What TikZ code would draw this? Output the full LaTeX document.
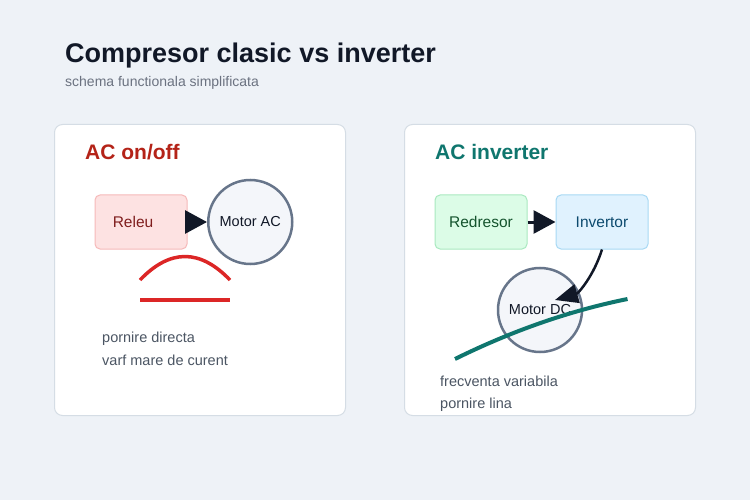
\documentclass[tikz,border=0pt]{standalone}
\usepackage{fontspec}
\setmainfont{Liberation Sans}
\usetikzlibrary{arrows.meta,positioning}
\definecolor{cpage}{HTML}{EEF2F7}
\definecolor{cline}{HTML}{D5DDE5}
\definecolor{cink}{HTML}{111827}
\definecolor{cgray}{HTML}{6B7280}
\definecolor{cbody}{HTML}{4B5563}
\definecolor{cred}{HTML}{B42318}
\definecolor{cwave}{HTML}{DC2626}
\definecolor{cteal}{HTML}{0F766E}
\definecolor{cslate}{HTML}{67758A}
\definecolor{cmotor}{HTML}{F4F6FA}
\definecolor{washred}{HTML}{FDE2E2}
\definecolor{edgered}{HTML}{F6B9B9}
\definecolor{inkred}{HTML}{7F1D1D}
\definecolor{washgreen}{HTML}{DCFCE7}
\definecolor{edgegreen}{HTML}{A9E9C0}
\definecolor{inkgreen}{HTML}{14532D}
\definecolor{washblue}{HTML}{E0F2FE}
\definecolor{edgeblue}{HTML}{A8D9F4}
\definecolor{inkblue}{HTML}{0C4A6E}

\begin{document}
\begin{tikzpicture}[x=1pt, y=-1pt,
  card/.style={draw=cline, fill=white, rounded corners=8pt, line width=1pt},
  heading/.style={anchor=base west, inner sep=0pt, font=\fontsize{21}{25}\selectfont\bfseries},
  txt/.style={anchor=base west, inner sep=0pt, text=cbody, font=\fontsize{14.5}{17}\selectfont},
  box/.style={draw, rounded corners=5pt, minimum width=92pt, minimum height=54pt, line width=1pt, font=\fontsize{15.5}{18}\selectfont},
  motor/.style={circle, draw=cslate, fill=cmotor, line width=2.5pt, minimum size=84pt, inner sep=0pt, text=cink, font=\fontsize{14.5}{17}\selectfont},
  arr/.style={-{Triangle[length=22pt, width=23pt]}, line width=3pt, cink},
]
\useasboundingbox (0,0) rectangle (750,500);
\fill[cpage] (0,0) rectangle (750,500);

% title
\node[anchor=base west, inner sep=0pt, text=cink, font=\fontsize{27}{32}\selectfont\bfseries] (title) at (65,63) {Compresor clasic vs inverter};
\node[anchor=base west, inner sep=0pt, text=cgray, font=\fontsize{14}{17}\selectfont] (subtitle) at (65,87) {schema functionala simplificata};

% cards
\draw[card] (54.5,124.5) rectangle (345.5,415.5);
\draw[card] (404.5,124.5) rectangle (695.5,415.5);

% left: on/off
\node[heading, text=cred] (hleft) at (85,160) {AC on/off};
\node[box, fill=washred, draw=edgered, text=inkred] (releu) at (141,222) {\hspace*{-16pt}Releu};
\node[motor, right=19.5pt of releu] (motorac) {Motor AC};
\draw[arr] (releu) -- (motorac);
\draw[cwave, line width=3.5pt] (140,280) .. controls (170,248.7) and (200,248.7) .. (230,280);
\draw[cwave, line width=3.5pt] (140,300) -- (230,300);
\node[txt] (n1) at (102,342) {pornire directa};
\node[txt] (n2) at (102,365) {varf mare de curent};

% right: inverter
\node[heading, text=cteal] (hright) at (435,160) {AC inverter};
\node[box, fill=washgreen, draw=edgegreen, text=inkgreen] (redresor) at (481,222) {Redresor};
\node[box, fill=washblue, draw=edgeblue, text=inkblue, right=28pt of redresor] (invertor) {Invertor};
\node[motor] (motordc) at (540,310) {Motor DC};
\coordinate (dcin) at ([shift={(15,-10)}]motordc.center);
\draw[arr] (redresor) -- (invertor);
\draw[arr, line width=2.5pt, -{Triangle[length=23pt, width=19pt]}] (invertor.south) .. controls (593.7,276) and (578.3,293.3) .. (dcin);
\draw[cteal, line width=4pt] (455,359) .. controls (512.3,330.7) and (569.9,310.7) .. (627.5,299);
\node[txt] (n3) at (440,386) {frecventa variabila};
\node[txt] (n4) at (440,408) {pornire lina};
\end{tikzpicture}
\end{document}
